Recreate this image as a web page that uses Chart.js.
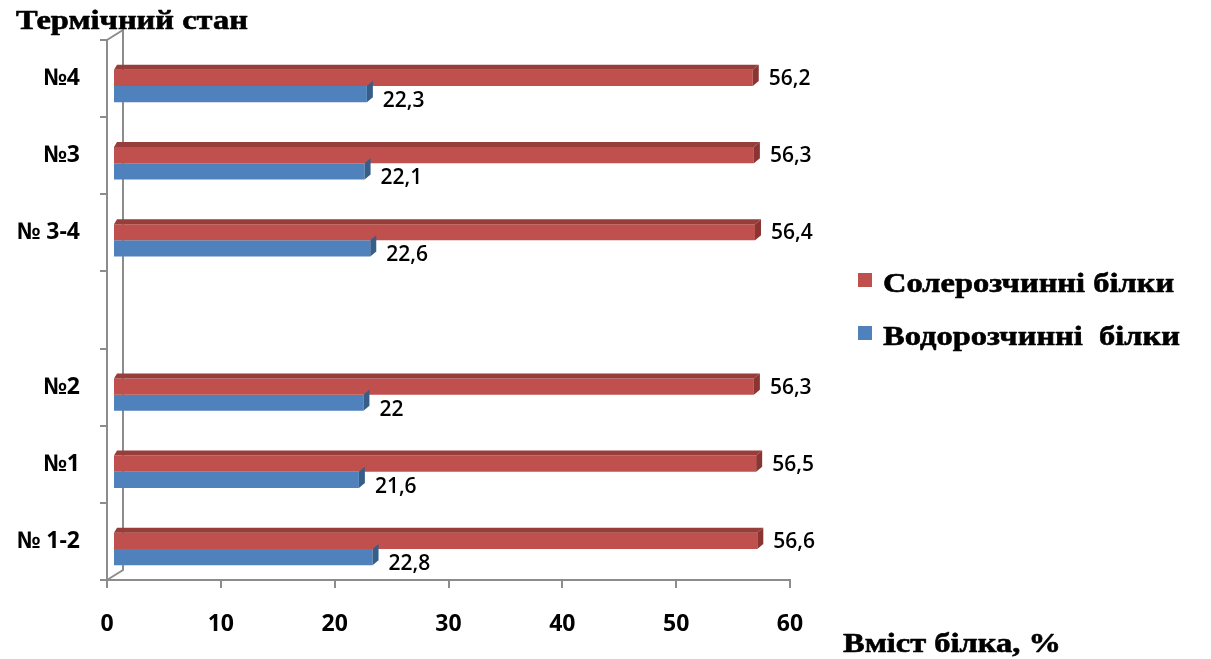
<!DOCTYPE html>
<html lang="uk">
<head>
<meta charset="utf-8">
<title>Вміст білка</title>
<script src="https://cdn.jsdelivr.net/npm/chart.js@4.4.1/dist/chart.umd.min.js"></script>
<style>
  html, body { margin: 0; padding: 0; background: #ffffff; }
  #wrap { width: 1211px; height: 659px; }
</style>
</head>
<body>
<div id="wrap"><canvas id="chart" width="1211" height="659"></canvas></div>
<script>
// Categories (top to bottom) and protein content, %
const categories = ['№4', '№3', '№ 3-4', '', '№2', '№1', '№ 1-2'];
const saltSoluble = [56.2, 56.3, 56.4, null, 56.3, 56.5, 56.6];
const waterSoluble = [22.3, 22.1, 22.6, null, 22, 21.6, 22.8];
const xTicks = [0, 10, 20, 30, 40, 50, 60];

const seriesNames = ['Солерозчинні білки', 'Водорозчинні  білки'];
const yTitle = 'Термічний стан';
const xTitle = 'Вміст білка, %';

// 3D look: bars sit a little in front of the wall
const DEPTH_X = 6, DEPTH_Y = 7.5;
const FACE = 6, RISE = 5;
const shades = [
  { front: '#C0504D', top: '#973D3A', side: '#8A3532' },
  { front: '#4F81BD', top: '#3A6496', side: '#375D89' }
];
const AXIS = '#8C8C8C';
const SERIF = 'bold 28px "Liberation Serif", "Times New Roman", serif';
const STRETCH = 1.16;

const fmt = v => String(v).replace('.', ',');

// wide heavy serif caption
function caption(ctx, text, x, baseline) {
  ctx.save();
  ctx.translate(x, baseline);
  ctx.scale(STRETCH, 1);
  ctx.font = SERIF;
  ctx.fillStyle = '#000000';
  ctx.strokeStyle = '#000000';
  ctx.lineWidth = 0.6;
  ctx.lineJoin = 'round';
  ctx.textAlign = 'left';
  ctx.textBaseline = 'alphabetic';
  ctx.fillText(text, 0, 0);
  ctx.strokeText(text, 0, 0);
  ctx.restore();
}

// back wall edge, bar faces, value labels, captions and legend
const framePlugin = {
  id: 'frame3d',
  beforeDatasetsDraw(chart) {
    const { ctx, chartArea: a } = chart;
    const wx = a.left + 16, top = a.top - 10, bot = a.bottom - 10;
    ctx.save();
    ctx.strokeStyle = AXIS;
    ctx.lineWidth = 2;
    ctx.beginPath();
    ctx.moveTo(a.left, a.top);
    ctx.lineTo(wx, top);
    ctx.lineTo(wx, bot);
    ctx.lineTo(a.left, a.bottom);
    ctx.stroke();
    ctx.restore();
    ctx.save();
    ctx.translate(DEPTH_X, DEPTH_Y);
  },
  afterDatasetsDraw(chart) {
    const { ctx } = chart;
    chart.data.datasets.forEach((ds, di) => {
      const meta = chart.getDatasetMeta(di);
      meta.data.forEach((bar, i) => {
        if (ds.data[i] == null) return;
        const p = bar.getProps(['x', 'y', 'base', 'height'], true);
        const t = p.y - p.height / 2, b = p.y + p.height / 2;
        if (di === 0) {
          ctx.fillStyle = shades[di].top;
          ctx.beginPath();
          ctx.moveTo(p.base, t);
          ctx.lineTo(p.x, t);
          ctx.lineTo(p.x + FACE, t - RISE);
          ctx.lineTo(p.base + 3, t - RISE);
          ctx.closePath();
          ctx.fill();
        }
        ctx.fillStyle = shades[di].side;
        ctx.beginPath();
        ctx.moveTo(p.x, t);
        ctx.lineTo(p.x + FACE, t - RISE);
        ctx.lineTo(p.x + FACE, b - RISE);
        ctx.lineTo(p.x, b);
        ctx.closePath();
        ctx.fill();
      });
    });
    ctx.fillStyle = '#000000';
    ctx.font = '600 21px "Open Sans", sans-serif';
    ctx.textAlign = 'left';
    ctx.textBaseline = 'middle';
    chart.data.datasets.forEach((ds, di) => {
      const meta = chart.getDatasetMeta(di);
      meta.data.forEach((bar, i) => {
        const v = ds.data[i];
        if (v == null) return;
        const p = bar.getProps(['x', 'y'], true);
        ctx.fillText(fmt(v), p.x + 16, p.y + (di === 0 ? 1 : 7));
      });
    });
    ctx.restore();
  },
  afterDraw(chart) {
    const { ctx, chartArea: a } = chart;
    caption(ctx, yTitle, a.left - 91, a.top - 11);
    caption(ctx, xTitle, a.right + 53, a.bottom + 72);

    // legend
    const lx = a.right + 68;
    const rows = [a.top + 252, a.top + 305];
    chart.data.datasets.forEach((ds, di) => {
      const base = rows[di];
      ctx.save();
      ctx.fillStyle = ds.backgroundColor;
      ctx.fillRect(lx, base - 19, 14, 14);
      ctx.restore();
      caption(ctx, ds.label, lx + 25, base);
    });
  }
};

new Chart(document.getElementById('chart'), {
  type: 'bar',
  data: {
    labels: categories,
    datasets: [
      { label: seriesNames[0], data: saltSoluble, backgroundColor: shades[0].front, borderWidth: 0 },
      { label: seriesNames[1], data: waterSoluble, backgroundColor: shades[1].front, borderWidth: 0 }
    ]
  },
  options: {
    indexAxis: 'y',
    responsive: false,
    animation: false,
    events: [],
    layout: { padding: { left: 16, right: 421, top: 40, bottom: 0 } },
    datasets: { bar: { categoryPercentage: 0.42, barPercentage: 1 } },
    scales: {
      x: {
        type: 'linear',
        min: 0, max: 60,
        afterBuildTicks(s) { s.ticks = xTicks.map(v => ({ value: v })); },
        afterFit(s) { s.height = 79; },
        grid: { drawOnChartArea: false, drawTicks: true, tickLength: 8, color: AXIS, lineWidth: 2 },
        border: { display: true, color: AXIS, width: 2 },
        ticks: {
          padding: 23,
          color: '#000000',
          font: { family: '"Open Sans", sans-serif', size: 23, weight: '700' }
        }
      },
      y: {
        type: 'category',
        afterFit(s) { s.width = 91; },
        grid: { drawOnChartArea: false, drawTicks: true, tickLength: 7, color: AXIS, lineWidth: 2, offset: true },
        border: { display: true, color: AXIS, width: 2 },
        ticks: {
          padding: 20,
          color: '#000000',
          font: { family: '"Open Sans", sans-serif', size: 23, weight: '700' }
        }
      }
    },
    plugins: {
      title: { display: false },
      legend: { display: false },
      tooltip: { enabled: false }
    }
  },
  plugins: [framePlugin]
});
</script>
</body>
</html>
